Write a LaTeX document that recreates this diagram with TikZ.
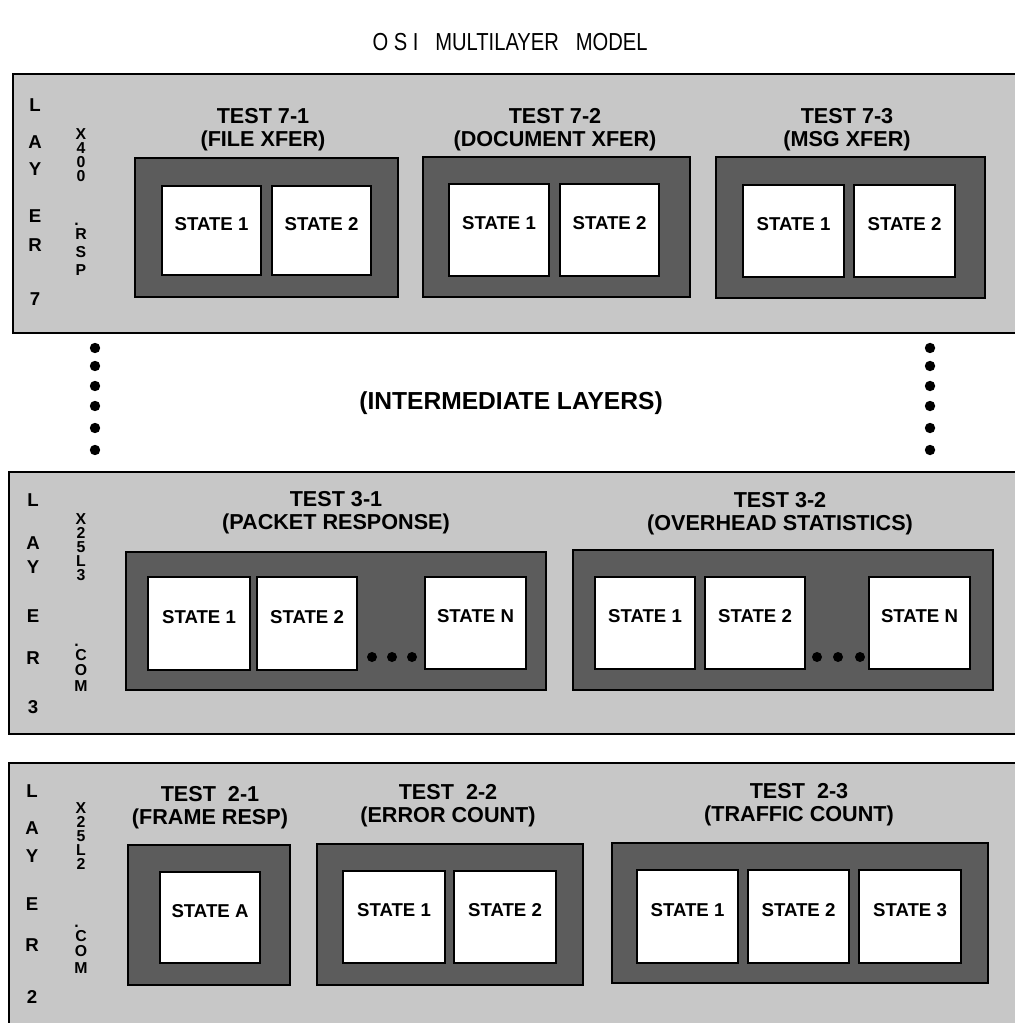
\documentclass[tikz,border=0pt]{standalone}
\usepackage{fontspec}
\setmainfont{Liberation Sans}
\usetikzlibrary{fit}
\definecolor{panelgray}{gray}{0.78}
\definecolor{boxgray}{gray}{0.36}
\newcommand\stbox[6]{\node[statebox, fit={(#2,#3) (#4,#5)}] (#1) {#6};}
\newcommand\tbox[5]{\node[testbox, fit={(#2,#3) (#4,#5)}] (#1) {};}
\begin{document}
\begin{tikzpicture}[x=0.02cm,y=-0.02cm,
  panel/.style={draw=black, fill=panelgray, line width=1.3pt, inner sep=0pt},
  testbox/.style={draw=black, fill=boxgray, line width=1.5pt, inner sep=0pt},
  statebox/.style={draw=black, fill=white, line width=0.8pt, inner sep=0pt,
    font=\bfseries\fontsize{10.6}{12}\selectfont},
  ttl/.style={font=\bfseries\fontsize{12.3}{13}\selectfont, align=center, inner sep=0pt},
  lay/.style={font=\bfseries\fontsize{10.6}{12}\selectfont, inner sep=0pt},
  col/.style={font=\bfseries\fontsize{9}{10}\selectfont, inner sep=0pt},
  pt/.style={font=\bfseries\fontsize{9}{10}\selectfont, inner sep=0pt, anchor=south east},
  bigdot/.style={fill=black}]
\useasboundingbox (0,0) rectangle (1014,1023);

% title
\node[font=\fontsize{14}{16}\selectfont, inner sep=0pt] (title) at (510,42)
  {\scalebox{0.82}[1]{O S I \ \ MULTILAYER \ \ MODEL}};

% panels
\node[panel, fit={(13,74) (1040,333)}] (L7) {};
\node[panel, fit={(9,472) (1040,734)}] (L3) {};
\node[panel, fit={(9,763) (1040,1045)}] (L2) {};

% ---------- layer 7 ----------
\foreach \c/\y [count=\i] in {L/105,A/142,Y/169,E/216,R/245,7/299}
  \node[lay] (l7c\i) at (35,\y) {\c};
\foreach \c/\y [count=\i] in {X/134,4/148,0/162,0/176,R/234,S/252,P/270}
  \node[col] (l7x\i) at (81,\y) {\c};
\node[pt] (l7dot) at (79,226) {.};

\tbox{t71}{135}{158}{398}{297}
\stbox{s711}{162}{186}{261}{275}{STATE 1}
\stbox{s712}{272}{186}{371}{275}{STATE 2}
\node[ttl] (h71) at (263,130) {TEST 7-1\\(FILE XFER)};

\tbox{t72}{423}{157}{690}{297}
\stbox{s721}{449}{184}{549}{276}{STATE 1}
\stbox{s722}{560}{184}{659}{276}{STATE 2}
\node[ttl] (h72) at (555,130) {TEST 7-2\\(DOCUMENT XFER)};

\tbox{t73}{716}{157}{985}{298}
\stbox{s731}{743}{185}{844}{277}{STATE 1}
\stbox{s732}{854}{185}{955}{277}{STATE 2}
\node[ttl] (h73) at (847,130) {TEST 7-3\\(MSG XFER)};

% ---------- intermediate ----------
\foreach \y [count=\i] in {348,366,386,406,428,450}{
  \fill[bigdot] (95,\y) circle (5.2);
  \fill[bigdot] (930,\y) circle (5.2);
}
\node[ttl, font=\bfseries\fontsize{14}{15}\selectfont] (inter) at (511,403) {(INTERMEDIATE LAYERS)};

% ---------- layer 3 ----------
\foreach \c/\y [count=\i] in {L/500,A/543,Y/567,E/616,R/658,3/707}
  \node[lay] (l3c\i) at (33,\y) {\c};
\foreach \c/\y [count=\i] in {X/519,2/533,5/547,L/561,3/575,C/655,O/670,M/686}
  \node[col] (l3x\i) at (81,\y) {\c};
\node[pt] (l3dot) at (79,647) {.};

\tbox{t31}{126}{552}{546}{690}
\stbox{s311}{148}{577}{250}{670}{STATE 1}
\stbox{s312}{257}{577}{357}{670}{STATE 2}
\stbox{s31n}{425}{577}{526}{669}{STATE N}
\foreach \x in {372,392,412} \fill[bigdot] (\x,657) circle (5);
\node[ttl] (h31) at (336,513) {TEST 3-1\\(PACKET RESPONSE)};

\tbox{t32}{573}{550}{993}{690}
\stbox{s321}{595}{577}{695}{669}{STATE 1}
\stbox{s322}{705}{577}{805}{669}{STATE 2}
\stbox{s32n}{869}{577}{970}{669}{STATE N}
\foreach \x in {817,838,860} \fill[bigdot] (\x,657) circle (5);
\node[ttl] (h32) at (780,514) {TEST 3-2\\(OVERHEAD STATISTICS)};

% ---------- layer 2 ----------
\foreach \c/\y [count=\i] in {L/791,A/828,Y/856,E/904,R/945,2/997}
  \node[lay] (l2c\i) at (32,\y) {\c};
\foreach \c/\y [count=\i] in {X/808,2/822,5/836,L/850,2/864,C/936,O/951,M/968}
  \node[col] (l2x\i) at (81,\y) {\c};
\node[pt] (l2dot) at (79,928) {.};

\tbox{t21}{128}{845}{290}{985}
\stbox{s21a}{160}{872}{260}{963}{STATE A}
\node[ttl] (h21) at (210,808) {TEST\ \ 2-1\\(FRAME RESP)};

\tbox{t22}{317}{844}{583}{985}
\stbox{s221}{343}{871}{445}{963}{STATE 1}
\stbox{s222}{454}{871}{556}{963}{STATE 2}
\node[ttl] (h22) at (448,806) {TEST\ \ 2-2\\(ERROR COUNT)};

\tbox{t23}{612}{843}{988}{983}
\stbox{s231}{637}{870}{738}{963}{STATE 1}
\stbox{s232}{748}{870}{849}{963}{STATE 2}
\stbox{s233}{859}{870}{961}{963}{STATE 3}
\node[ttl] (h23) at (799,805) {TEST\ \ 2-3\\(TRAFFIC COUNT)};
\end{tikzpicture}
\end{document}
